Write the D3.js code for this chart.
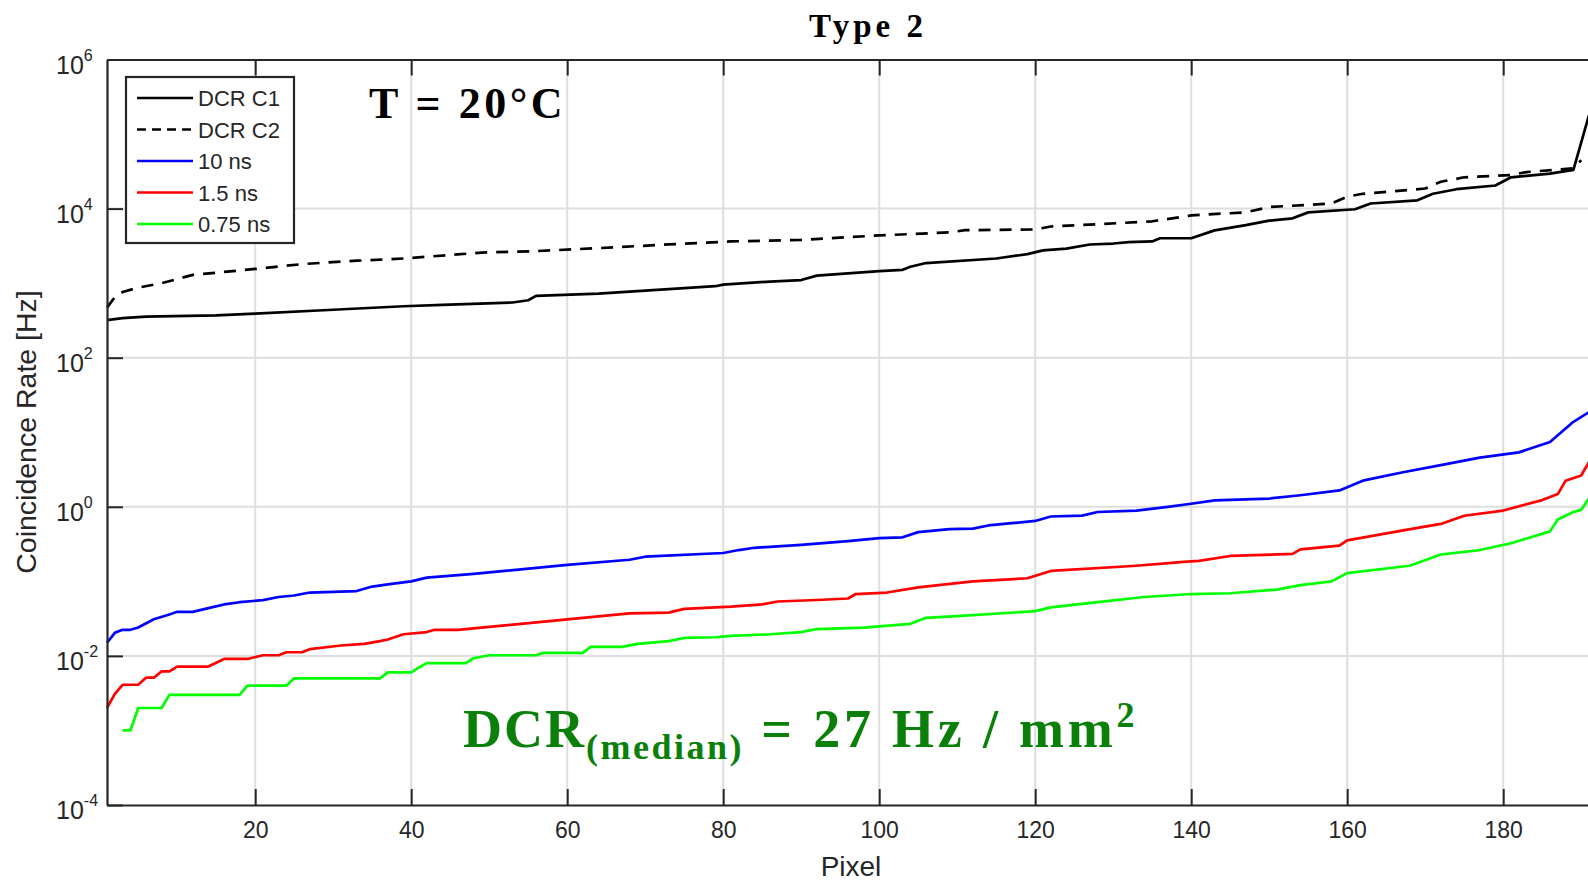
<!DOCTYPE html>
<html lang="en">
<head>
  <meta charset="UTF-8">
  <title>Type 2 - Coincidence Rate</title>
  <style>
    body, html {
      margin: 0;
      padding: 0;
      background: #fff;
      overflow: hidden;
    }
    #svg {
      display: block;
    }
  </style>
</head>
<body>
  <svg id="svg" width="1588" height="883"></svg>
  <script src="https://d3js.org/d3.v7.min.js"></script>
  <script>
    // [pixel, rate in Hz]
    const dcrC1 = [
      [1, 320], [3, 340], [6, 355], [15, 370], [20, 390], [30, 440], [39, 490], [44, 510],
      [53, 550], [55, 590], [56, 675], [64, 725], [73, 830], [79, 910], [80, 955], [86, 1050],
      [90, 1100], [92, 1260], [100, 1450], [103, 1510], [104, 1660], [106, 1860], [115, 2140],
      [119, 2450], [121, 2750], [124, 2900], [127, 3300], [130, 3400], [132, 3550], [135, 3630],
      [136, 4000], [140, 4000], [143, 5100], [147, 6000], [150, 6900], [153, 7400], [155, 8900],
      [161, 9800], [163, 11700], [169, 12900], [171, 15800], [174, 18200], [179, 20400],
      [181, 26300], [186, 29500], [189, 33100], [191, 180000]
    ]
    const dcrC2 = [
      [1, 470], [2, 650], [3, 760], [5, 870], [8, 1000], [12, 1290], [20, 1550], [26, 1800],
      [33, 2000], [39, 2140], [49, 2570], [56, 2690], [66, 3020], [73, 3310], [81, 3630],
      [90, 3800], [100, 4370], [109, 4790], [111, 5130], [120, 5250], [122, 5750], [128, 6170],
      [135, 6760], [139, 7760], [140, 8130], [147, 8900], [150, 10500], [158, 11700],
      [160, 14500], [162, 15800], [170, 18600], [172, 22900], [175, 26300], [181, 28200],
      [183, 30900], [189, 34700], [190, 44700]
    ]
    const win10ns = [
      [1, 0.015], [2, 0.0204], [3, 0.0224], [4, 0.0224], [5, 0.024], [7, 0.031], [9, 0.036],
      [10, 0.039], [12, 0.039], [14, 0.0437], [16, 0.049], [18, 0.0525], [21, 0.056],
      [23, 0.0617], [25, 0.0646], [27, 0.0708], [33, 0.0741], [35, 0.0851], [37, 0.0912],
      [40, 0.1], [42, 0.112], [48, 0.126], [51, 0.135], [60, 0.166], [68, 0.195], [70, 0.214],
      [80, 0.24], [82, 0.263], [84, 0.282], [90, 0.309], [96, 0.347], [100, 0.38], [103, 0.39],
      [105, 0.457], [109, 0.501], [112, 0.51], [114, 0.562], [117, 0.603], [120, 0.646],
      [122, 0.741], [126, 0.76], [128, 0.851], [133, 0.891], [137, 1.0], [140, 1.1], [143, 1.22],
      [150, 1.29], [154, 1.43], [159, 1.66], [162, 2.24], [167, 2.88], [173, 3.8], [177, 4.57],
      [182, 5.37], [186, 7.41], [188, 11.2], [189, 13.8], [191, 18.6]
    ]
    const win1p5ns = [
      [1, 0.002], [2, 0.0031], [3, 0.0041], [5, 0.0041], [6, 0.0051], [7, 0.0051], [8, 0.0062],
      [9, 0.0062], [10, 0.0072], [14, 0.0072], [16, 0.0091], [19, 0.0091], [21, 0.0102],
      [23, 0.0102], [24, 0.0112], [26, 0.0112], [27, 0.0123], [31, 0.0138], [34, 0.0145],
      [36, 0.0158], [37, 0.0166], [39, 0.0195], [42, 0.0209], [43, 0.0224], [46, 0.0224],
      [51, 0.0251], [60, 0.0309], [68, 0.0372], [73, 0.038], [75, 0.0427], [81, 0.0457],
      [85, 0.049], [87, 0.0537], [92, 0.0562], [96, 0.0589], [97, 0.0676], [101, 0.0708],
      [105, 0.0832], [112, 0.1], [119, 0.11], [122, 0.138], [133, 0.162], [139, 0.182],
      [141, 0.188], [145, 0.219], [153, 0.234], [154, 0.269], [159, 0.302], [160, 0.355],
      [167, 0.479], [172, 0.589], [175, 0.759], [180, 0.891], [185, 1.23], [187, 1.48],
      [188, 2.24], [190, 2.63], [191, 4.0]
    ]
    const win075ns = [
      [3, 0.001], [4, 0.001], [5, 0.002], [8, 0.002], [9, 0.003], [18, 0.003], [19, 0.004],
      [24, 0.004], [25, 0.005], [36, 0.005], [37, 0.006], [40, 0.006], [41, 0.007], [42, 0.008],
      [47, 0.008], [48, 0.0093], [50, 0.0102], [56, 0.0102], [57, 0.011], [62, 0.011],
      [63, 0.0132], [67, 0.0132], [69, 0.0145], [73, 0.0158], [75, 0.0174], [79, 0.0178],
      [81, 0.0186], [86, 0.0195], [90, 0.0209], [92, 0.0229], [98, 0.024], [104, 0.0269],
      [106, 0.0324], [111, 0.0347], [120, 0.0398], [122, 0.0447], [128, 0.0525], [134, 0.0617],
      [140, 0.0676], [145, 0.0692], [151, 0.0776], [154, 0.0891], [158, 0.1], [160, 0.129],
      [168, 0.162], [172, 0.229], [177, 0.263], [181, 0.324], [186, 0.468], [187, 0.676],
      [189, 0.85], [190, 0.91], [191, 1.3]
    ]

    const seriesNames = ['DCR C1', 'DCR C2', '10 ns', '1.5 ns', '0.75 ns']
    const seriesColors = ['#000000', '#000000', '#0000ff', '#ff0000', '#00ff00']
    const seriesDash = [null, '12,9', null, null, null]
    const xTicks = [20, 40, 60, 80, 100, 120, 140, 160, 180]
    const yTicks = [1e-4, 1e-2, 1e0, 1e2, 1e4, 1e6]

    function drawChart() {
      const width = 1588
      const left = 107
      const top = 59.5
      const bottom = 805
      const axisColor = '#262626'
      const sans = "'Liberation Sans', Arial, Helvetica, sans-serif"
      const serif = "'Liberation Serif', 'Times New Roman', serif"

      const x = d3.scaleLinear().domain([1, 191]).range([left, left + 190 * 7.8])
      const y = d3.scaleLog().domain([1e-4, 1e6]).range([bottom, top])

      const svg = d3.select('#svg')

      svg.append('rect')
        .attr('width', width).attr('height', 883)
        .attr('fill', '#fff')

      // grid
      const grid = svg.append('g')
        .attr('stroke', '#dedede')
        .attr('stroke-width', 2)
      grid.selectAll('.vgrid')
        .data(xTicks)
        .enter()
        .append('line')
        .attr('x1', d => x(d)).attr('x2', d => x(d))
        .attr('y1', top).attr('y2', bottom)
      grid.selectAll('.hgrid')
        .data(yTicks.slice(1, -1))
        .enter()
        .append('line')
        .attr('x1', left).attr('x2', width)
        .attr('y1', d => y(d)).attr('y2', d => y(d))

      // curves
      const lineGen = d3.line()
        .x(d => x(d[0]))
        .y(d => y(d[1]))

      const allSeries = [dcrC1, dcrC2, win10ns, win1p5ns, win075ns]
      svg.append('g')
        .selectAll('path')
        .data(allSeries)
        .enter()
        .append('path')
        .attr('d', lineGen)
        .attr('fill', 'none')
        .attr('stroke', (d, i) => seriesColors[i])
        .attr('stroke-width', 2.7)
        .attr('stroke-dasharray', (d, i) => seriesDash[i])
        .attr('stroke-linejoin', 'round')

      // x axis (bottom) with inward ticks
      const xAxis = svg.append('g')
        .attr('transform', `translate(0, ${bottom})`)
        .call(d3.axisBottom(x).tickValues(xTicks).tickSizeInner(-16).tickSizeOuter(0).tickPadding(17))
      xAxis.select('.domain').attr('stroke', axisColor).attr('stroke-width', 2.2)
      xAxis.selectAll('.tick line').attr('stroke', axisColor).attr('stroke-width', 2)
      xAxis.selectAll('.tick text')
        .attr('fill', axisColor)
        .style('font-family', sans)
        .style('font-size', '23px')

      // top border with ticks
      const topAxis = svg.append('g')
        .attr('transform', `translate(0, ${top})`)
        .call(d3.axisTop(x).tickValues(xTicks).tickSizeInner(-16).tickSizeOuter(0).tickFormat(''))
      topAxis.select('.domain').attr('stroke', axisColor).attr('stroke-width', 2.2)
      topAxis.selectAll('.tick line').attr('stroke', axisColor).attr('stroke-width', 2)

      // y axis (left)
      const yAxis = svg.append('g')
        .attr('transform', `translate(${left}, 0)`)
        .call(d3.axisLeft(y).tickValues(yTicks).tickSizeInner(-16).tickSizeOuter(0).tickFormat(''))
      yAxis.select('.domain').attr('stroke', axisColor).attr('stroke-width', 2.2)
      yAxis.selectAll('.tick line').attr('stroke', axisColor).attr('stroke-width', 2)

      // y tick labels as 10 with superscript exponent
      const yLabels = svg.append('g')
        .selectAll('text')
        .data(yTicks)
        .enter()
        .append('text')
        .attr('x', 56)
        .attr('y', d => y(d) + 14)
        .attr('fill', axisColor)
        .style('font-family', sans)
        .style('font-size', '25px')
      yLabels.append('tspan').text('10')
      yLabels.append('tspan')
        .attr('dy', -13)
        .style('font-size', '16px')
        .text(d => Math.round(Math.log10(d)))

      // axis titles
      svg.append('text')
        .text('Pixel')
        .attr('x', 851)
        .attr('y', 876)
        .attr('text-anchor', 'middle')
        .attr('fill', axisColor)
        .style('font-family', sans)
        .style('font-size', '28px')

      svg.append('text')
        .text('Coincidence Rate [Hz]')
        .attr('transform', 'translate(36, 432) rotate(-90)')
        .attr('text-anchor', 'middle')
        .attr('fill', axisColor)
        .style('font-family', sans)
        .style('font-size', '28.5px')

      svg.append('text')
        .text('Type 2')
        .attr('x', 868)
        .attr('y', 37)
        .attr('text-anchor', 'middle')
        .attr('fill', '#000')
        .style('font-family', serif)
        .style('font-weight', 'bold')
        .style('font-size', '33px')
        .style('letter-spacing', '4px')

      // legend
      const legend = svg.append('g')
      legend.append('rect')
        .attr('x', 126).attr('y', 77)
        .attr('width', 168).attr('height', 166)
        .attr('fill', '#fff')
        .attr('stroke', axisColor)
        .attr('stroke-width', 2.2)
      const legendRows = legend.selectAll('.row')
        .data(seriesNames)
        .enter()
        .append('g')
        .attr('transform', (d, i) => `translate(0, ${98 + i * 31.5})`)
      legendRows.append('line')
        .attr('x1', 137).attr('x2', 193)
        .attr('stroke', (d, i) => seriesColors[i])
        .attr('stroke-width', 2.6)
        .attr('stroke-dasharray', (d, i) => seriesDash[i] ? '9,6' : null)
      legendRows.append('text')
        .text(d => d)
        .attr('x', 198)
        .attr('y', 8)
        .attr('fill', axisColor)
        .style('font-family', sans)
        .style('font-size', '22px')

      // annotations
      svg.append('text')
        .text('T = 20°C')
        .attr('x', 369)
        .attr('y', 118)
        .attr('fill', '#000')
        .style('font-family', serif)
        .style('font-weight', 'bold')
        .style('font-size', '44px')
        .style('letter-spacing', '3.5px')

      const dcrNote = svg.append('text')
        .attr('x', 463)
        .attr('y', 747)
        .attr('fill', '#0a800a')
        .style('font-family', serif)
        .style('font-weight', 'bold')
        .style('font-size', '54px')
        .style('letter-spacing', '2px')
      dcrNote.append('tspan').text('DCR')
      dcrNote.append('tspan').attr('dy', 12).style('font-size', '36px').style('letter-spacing', '2.5px').text('(median)')
      dcrNote.append('tspan').attr('dy', -12).style('letter-spacing', '3.8px').text(' = 27 Hz / mm')
      dcrNote.append('tspan').attr('dy', -20).style('font-size', '36px').text('2')
    }

    drawChart()
  </script>
</body>
</html>
